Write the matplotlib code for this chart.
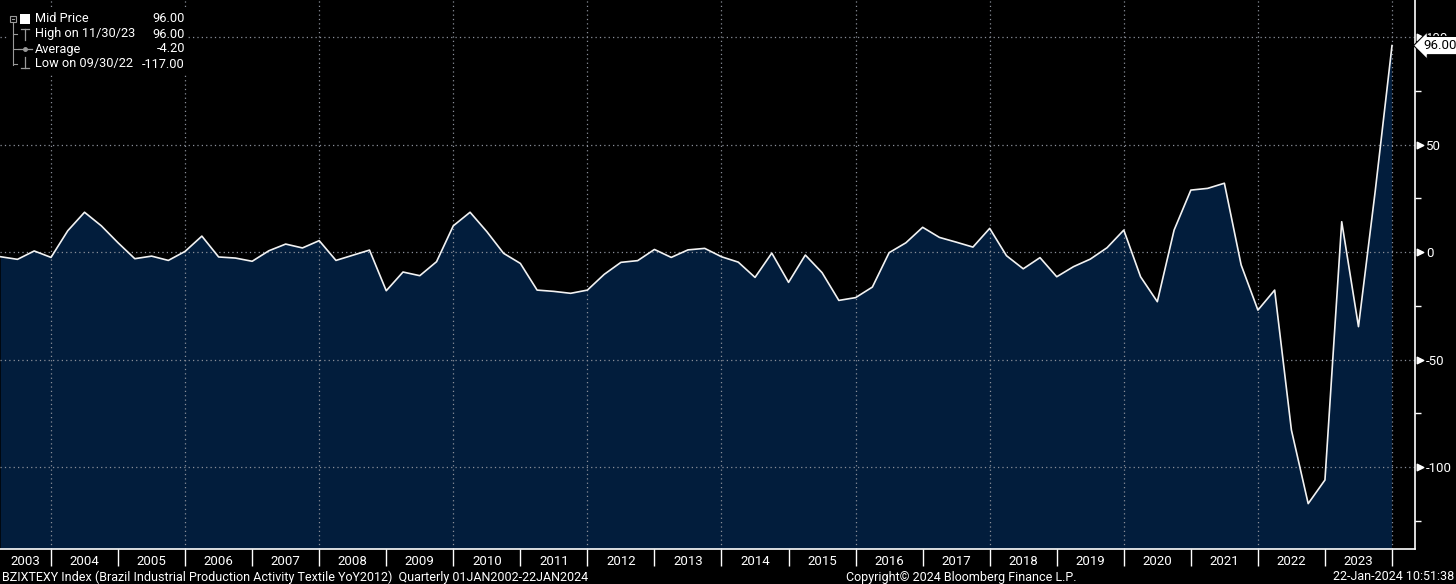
import matplotlib
matplotlib.use("Agg")
import matplotlib.pyplot as plt
import matplotlib.transforms as mtransforms
from matplotlib.lines import Line2D
from matplotlib.patches import Rectangle

# quarterly YoY values, first point is end of Q1 2003
start_year = 2003.25
values = [
    -2.2, -3.4, 0.5, -2.5, 9.9, 18.5, 12.2, 4.3, -3.1, -1.9,
    -3.9, 0.3, 7.4, -2.3, -2.8, -4.3, 0.6, 3.7, 1.9, 5.3,
    -3.9, -1.5, 0.9, -18.0, -9.3, -11.0, -4.5, 12.2, 18.5, 9.5,
    -0.6, -5.3, -17.7, -18.3, -19.2, -17.7, -10.4, -4.8, -4.0, 1.2,
    -2.5, 1.0, 1.7, -2.2, -4.7, -11.8, -0.5, -14.1, -1.4, -9.6,
    -22.5, -21.2, -16.3, -0.3, 4.3, 11.5, 6.8, 4.6, 2.3, 11.0,
    -1.7, -7.8, -2.6, -11.5, -6.8, -3.3, 2.0, 10.2, -11.5, -23.1,
    10.2, 28.8, 29.6, 32.0, -6.0, -27.0, -17.7, -82.8, -117.0, -106.0,
    14.1, -34.7, 28.4, 96.0,
]
dates = [start_year + 0.25 * i for i in range(len(values))]

years = list(range(2003, 2024))
y_major = [-100, -50, 0, 50, 100]
y_minor = [-125, -75, -25, 25, 75]
grid_years = list(range(2004, 2025, 2))

legend_rows = [
    ("Mid Price", "96.00"),
    ("High on 11/30/23", "96.00"),
    ("Average", "-4.20"),
    ("Low on 09/30/22", "-117.00"),
]
last_label = "96.00"
footer_left = "BZIXTEXY Index (Brazil Industrial Production Activity Textile YoY2012)  Quarterly 01JAN2002-22JAN2024"
footer_mid = "Copyright\u00a9 2024 Bloomberg Finance L.P."
footer_right = "22-Jan-2024 10:51:38"

W, H = 1456, 584
FONT = ["Liberation Sans Narrow", "Roboto", "DejaVu Sans"]
plt.rcParams["font.family"] = FONT

fig = plt.figure(figsize=(W / 100, H / 100), dpi=100, facecolor="black")
ax_left, ax_right, ax_top, ax_bottom = 0, 1415, 0, 549
ax = fig.add_axes([ax_left / W, 1 - ax_bottom / H, (ax_right - ax_left) / W, (ax_bottom - ax_top) / H])
ax.set_facecolor("black")

x0 = 2004 - 51 / 67.05
x1 = 2004 + (1415 - 51) / 67.05
ax.set_xlim(x0, x1)
ax.set_ylim(-138.1, 117.2)

# area + line
ax.fill_between(dates, values, -200, color="#021d3c", zorder=1, linewidth=0)
ax.plot(dates, values, color="#f2f2f2", linewidth=1.2, zorder=3)

# dotted grid
for g in y_major:
    ax.axhline(g, color="#8a8f99", linewidth=0.9, linestyle=(0, (1, 2.5)), zorder=2)
for g in grid_years:
    ax.axvline(g, color="#8a8f99", linewidth=0.9, linestyle=(0, (1, 2.5)), zorder=2)

# spines
for s in ["top", "left"]:
    ax.spines[s].set_visible(False)
ax.spines["right"].set_color("white")
ax.spines["bottom"].set_color("white")
ax.spines["right"].set_linewidth(1.2)
ax.spines["bottom"].set_linewidth(1.2)

# right y axis
ax.yaxis.tick_right()
ax.set_yticks(y_major)
ax.set_yticklabels([str(v) for v in y_major])
ax.set_yticks(y_minor, minor=True)
ax.tick_params(axis="y", which="major", length=0, pad=8, labelcolor="white", labelsize=9.5)
ax.tick_params(axis="y", which="minor", length=4, width=1, color="white", direction="out")
tri = mtransforms.blended_transform_factory(ax.transAxes, ax.transData)
ax.scatter([1.0035] * len(y_major), y_major, marker=">", s=22, color="white",
           transform=tri, clip_on=False, zorder=5)

# x axis: separators at year boundaries, labels centred in each year
ax.set_xticks(list(range(2004, 2025)))
ax.set_xticklabels([])
ax.tick_params(axis="x", which="major", length=12.5, width=1, color="white", direction="out")
centers = [(max(y, x0) + y + 1) / 2 for y in years]
ax.set_xticks(centers, minor=True)
ax.set_xticklabels([str(y) for y in years], minor=True)
ax.tick_params(axis="x", which="minor", length=0, pad=4, labelcolor="white", labelsize=9.5)

# last value tag (covers the 100 label, as in the terminal chart)
ax.text(1.006, values[-1], last_label, transform=tri, ha="left", va="center",
        fontsize=9.5, color="black", clip_on=False, zorder=6,
        bbox=dict(boxstyle="larrow,pad=0.2", fc="white", ec="black", lw=0.8))


def px(x, y):
    return x / W, 1 - y / H


# legend panel
fig.add_artist(Rectangle(px(7, 75), 181 / W, 65 / H, transform=fig.transFigure,
                         facecolor="black", edgecolor="none", zorder=10))
gray = "#9a9a9a"
row_y = [19, 34, 49, 64]
fig.add_artist(Rectangle(px(10, 22), 6 / W, 6 / H, transform=fig.transFigure,
                         facecolor="none", edgecolor=gray, lw=0.8, zorder=11))
fig.add_artist(Line2D([11.5 / W, 14.5 / W], [1 - 19 / H] * 2, color=gray, lw=0.8, zorder=11))
fig.add_artist(Rectangle(px(20, 24), 10 / W, 10 / H, transform=fig.transFigure,
                         facecolor="white", edgecolor="none", zorder=11))
fig.add_artist(Line2D([13 / W] * 2, [1 - 23 / H, 1 - 65 / H], color=gray, lw=0.8, zorder=11))
for yy in row_y[1:]:
    fig.add_artist(Line2D([13 / W, 17 / W], [1 - yy / H] * 2, color=gray, lw=0.8, zorder=11))
# high glyph
fig.add_artist(Line2D([25 / W] * 2, [1 - 29 / H, 1 - 40 / H], color=gray, lw=0.9, zorder=11))
fig.add_artist(Line2D([21 / W, 29 / W], [1 - 29 / H] * 2, color=gray, lw=0.9, zorder=11))
# average glyph
fig.add_artist(Line2D([18 / W, 32 / W], [1 - 49 / H] * 2, color=gray, lw=0.9, zorder=11))
fig.add_artist(Line2D([25 / W], [1 - 49 / H], color=gray, marker="o", ms=2.5, zorder=11))
# low glyph
fig.add_artist(Line2D([25 / W] * 2, [1 - 57 / H, 1 - 68 / H], color=gray, lw=0.9, zorder=11))
fig.add_artist(Line2D([21 / W, 29 / W], [1 - 68 / H] * 2, color=gray, lw=0.9, zorder=11))

for (lab, val), yy in zip(legend_rows, row_y):
    fig.text(*px(35, yy), lab, color="white", fontsize=9.2, ha="left", va="center", zorder=12)
    fig.text(*px(185, yy), val, color="white", fontsize=9.2, ha="right", va="center", zorder=12)

# footer
fig.text(*px(2, 577), footer_left, color="white", fontsize=9, ha="left", va="center")
fig.text(*px(961, 577), footer_mid, color="white", fontsize=9, ha="center", va="center")
fig.text(*px(1454, 577), footer_right, color="white", fontsize=9, ha="right", va="center")

fig.savefig("out.png", dpi=100, facecolor="black")
